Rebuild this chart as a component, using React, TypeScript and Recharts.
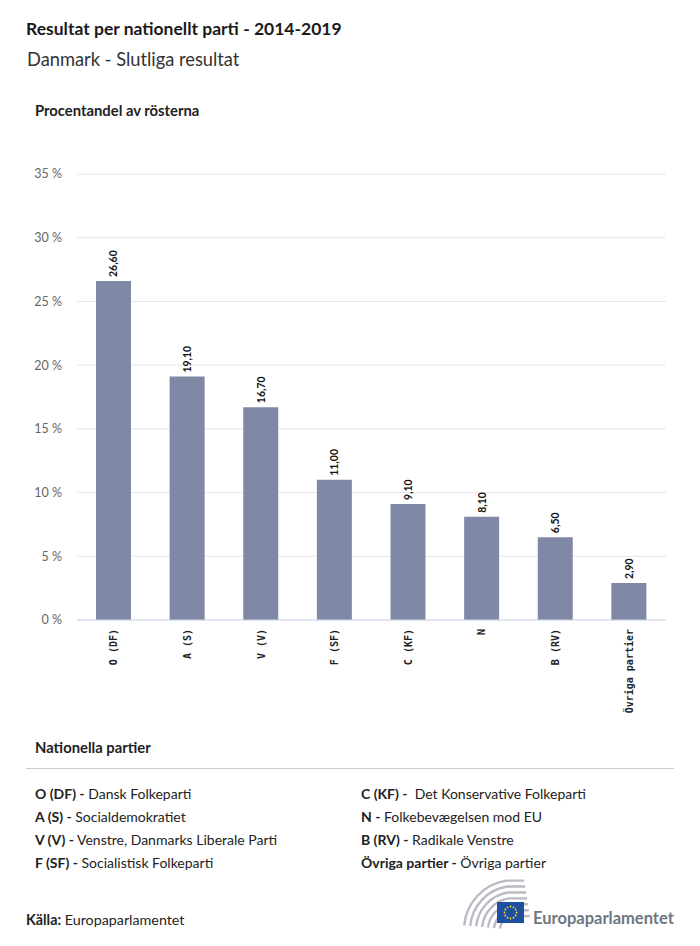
import React from "react"
import { BarChart, Bar, XAxis, YAxis, CartesianGrid, LabelList } from "recharts"

const parties = ["O (DF)", "A (S)", "V (V)", "F (SF)", "C (KF)", "N", "B (RV)", "Övriga partier"]
const shares = [26.6, 19.1, 16.7, 11.0, 9.1, 8.1, 6.5, 2.9]
const yTicks = [0, 5, 10, 15, 20, 25, 30, 35]

const legendLeft = [
  ["O (DF) -", "Dansk Folkeparti"],
  ["A (S) -", "Socialdemokratiet"],
  ["V (V) -", "Venstre, Danmarks Liberale Parti"],
  ["F (SF) -", "Socialistisk Folkeparti"],
]
const legendRight = [
  ["C (KF) -", " Det Konservative Folkeparti"],
  ["N -", "Folkebevægelsen mod EU"],
  ["B (RV) -", "Radikale Venstre"],
  ["Övriga partier -", "Övriga partier"],
]

const FONT = "Lato, 'Noto Sans', sans-serif"

const data = parties.map((p, i) => ({ party: p, value: shares[i] }))

function PartyTick(props: any) {
  const { x, y, payload } = props
  const ty = y + 1
  return (
    <text
      x={x}
      y={ty}
      transform={`rotate(-90, ${x}, ${ty})`}
      textAnchor="end"
      dominantBaseline="central"
      fontFamily="'DejaVu Sans Mono', monospace"
      fontWeight="bold"
      fontSize={10}
      fill="#222"
    >
      {payload.value}
    </text>
  )
}

function ValueLabel(props: any) {
  const { x, y, width, value } = props
  const cx = x + width / 2
  const cy = y - 4
  return (
    <text
      x={cx}
      y={cy}
      transform={`rotate(-90, ${cx}, ${cy})`}
      textAnchor="start"
      dominantBaseline="central"
      fontFamily={FONT}
      fontWeight="bold"
      fontSize={10.5}
      fill="#111"
    >
      {Number(value).toFixed(2).replace(".", ",")}
    </text>
  )
}

function Logo() {
  const arcs = [14, 20, 26, 32, 38, 44, 50]
  const cx = 514
  const cy = 930
  const stars = Array.from({ length: 12 }, (_, i) => i)
  return (
    <svg width={700} height={946} style={{ position: "absolute", left: 0, top: 0, pointerEvents: "none" }}>
      {arcs.map((r) => {
        const a0 = Math.PI * 0.97
        const a1 = Math.PI * 0.55
        const x0 = cx + r * Math.cos(a0)
        const y0 = cy - r * Math.sin(a0)
        const x1 = cx + r * Math.cos(a1)
        const y1 = cy - r * Math.sin(a1)
        return (
          <path
            key={r}
            d={`M ${x0} ${y0} A ${r} ${r} 0 0 1 ${x1} ${y1} L ${x1 + 18} ${y1}`}
            fill="none"
            stroke="#b9bcc2"
            strokeWidth={2.4}
          />
        )
      })}
      <rect x={497} y={902} width={27} height={21} fill="#1f4fa0" />
      {stars.map((i) => {
        const a = (i / 12) * Math.PI * 2
        return <circle key={i} cx={510.5 + 6 * Math.cos(a)} cy={912.5 + 6 * Math.sin(a)} r={0.9} fill="#ffdd00" />
      })}
      <text x={533} y={924} fontFamily={FONT} fontWeight="bold" fontSize={16.5} fill="#6e7681">
        Europaparlamentet
      </text>
    </svg>
  )
}

function LegendRow({ bold, rest, x, y }: { bold: string; rest: string; x: number; y: number }) {
  return (
    <div style={{ position: "absolute", left: x, top: y, fontSize: 14, color: "#222", whiteSpace: "pre" }}>
      <b>{bold}</b> {rest}
    </div>
  )
}

export default function App() {
  return (
    <div style={{ position: "relative", width: 700, height: 946, background: "#fff", fontFamily: FONT, overflow: "hidden" }}>
      <style>{"body{margin:0}"}</style>
      <div style={{ position: "absolute", left: 26, top: 18, fontSize: 17.5, fontWeight: "bold", color: "#1a1a1a" }}>
        Resultat per nationellt parti - 2014-2019
      </div>
      <div style={{ position: "absolute", left: 27, top: 48, fontSize: 18.3, color: "#333" }}>
        Danmark - Slutliga resultat
      </div>
      <div style={{ position: "absolute", left: 35, top: 101, fontSize: 14.8, fontWeight: "bold", color: "#222" }}>
        Procentandel av rösterna
      </div>
      <div style={{ position: "absolute", left: 0, top: 0 }}>
        <BarChart width={700} height={722} data={data} margin={{ top: 174, right: 34, left: 8, bottom: 0 }}>
          <CartesianGrid vertical={false} stroke="#e6e6e6" />
          <XAxis
            dataKey="party"
            interval={0}
            height={102}
            tick={<PartyTick />}
            tickLine={false}
            axisLine={{ stroke: "#ccd6eb" }}
          />
          <YAxis
            width={69}
            domain={[0, 35]}
            ticks={yTicks}
            tickFormatter={(v) => `${v} %`}
            tick={{ fill: "#666", fontSize: 12.5, fontFamily: FONT }}
            tickLine={false}
            axisLine={false}
            tickSize={0}
            tickMargin={15}
          />
          <Bar dataKey="value" fill="#7f89a6" barSize={35} isAnimationActive={false}>
            <LabelList dataKey="value" content={<ValueLabel />} />
          </Bar>
        </BarChart>
      </div>
      <div style={{ position: "absolute", left: 35, top: 738, fontSize: 14.8, fontWeight: "bold", color: "#222" }}>
        Nationella partier
      </div>
      <div style={{ position: "absolute", left: 26, top: 768, width: 648, height: 1, background: "#cccccc" }} />
      {legendLeft.map(([b, r], i) => (
        <LegendRow key={b} bold={b} rest={r} x={35} y={785 + i * 23} />
      ))}
      {legendRight.map(([b, r], i) => (
        <LegendRow key={b} bold={b} rest={r} x={361} y={785 + i * 23} />
      ))}
      <div style={{ position: "absolute", left: 26, top: 911, fontSize: 14.3, color: "#222" }}>
        <b>Källa:</b> Europaparlamentet
      </div>
      <Logo />
    </div>
  )
}
